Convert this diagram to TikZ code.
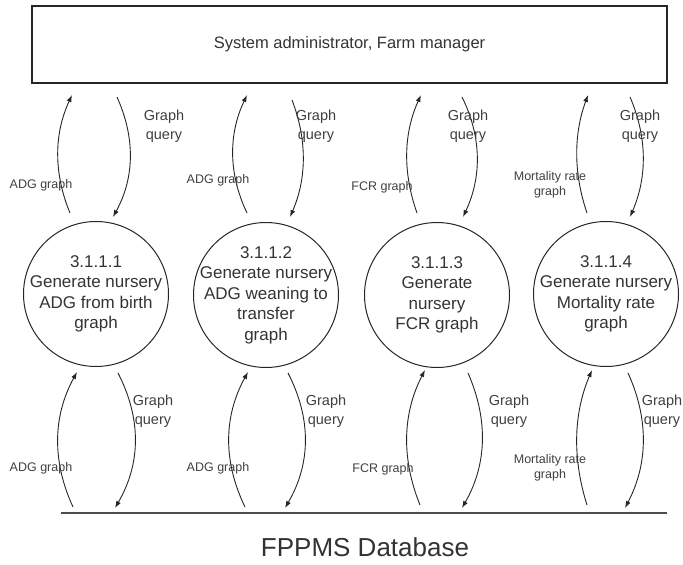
\documentclass[tikz,border=0pt]{standalone}
\usepackage{fontspec}
\setmainfont{Liberation Sans}
\usetikzlibrary{arrows.meta}
\begin{document}
\begin{tikzpicture}[x=1pt,y=-1pt,
  flow/.style={draw=black!85, line width=0.9pt, -{Latex[length=7pt,width=5pt]}},
  proc/.style={circle, draw=black!85, line width=1pt, minimum size=145pt, inner sep=0pt},
  proctext/.style={align=center, font=\fontsize{17}{20.5}\selectfont, text=black!80, inner sep=0pt},
  lbl/.style={align=center, font=\fontsize{12.5}{15}\selectfont, text=black!75, inner sep=0pt},
  qlbl/.style={align=center, font=\fontsize{14.5}{18.5}\selectfont, text=black!75, inner sep=0pt},
  ext/.style={draw=black!85, line width=1.2pt, minimum width=635pt, minimum height=77pt, inner sep=0pt, font=\fontsize{16.5}{20}\selectfont, text=black!80},
  store/.style={draw=black!70, line width=1.5pt}
]
\useasboundingbox (0,0) rectangle (683,565);

% external entity
\node[ext] (sys) at (349.5,44.5) {System administrator, Farm manager};

% processes
\node[proc] (p1) at (96,294) {};
\node[proctext] (p1t) at (p1) {3.1.1.1\\Generate nursery\\ADG from birth\\graph};
\node[proc] (p2) at (266,295) {};
\node[proctext] (p2t) at (p2) {3.1.1.2\\Generate nursery\\ADG weaning to\\transfer\\graph};
\node[proc] (p3) at (437,295) {};
\node[proctext] (p3t) at (p3) {3.1.1.3\\Generate\\nursery\\FCR graph};
\node[proc] (p4) at (606,294) {};
\node[proctext] (p4t) at (p4) {3.1.1.4\\Generate nursery\\Mortality rate\\graph};

% data store
\coordinate (dbl) at (61,513);
\coordinate (dbr) at (667,513);
\draw[store] (dbl) -- (dbr);
\node[font=\fontsize{26}{30}\selectfont, text=black!80, inner sep=0pt] (db) at (365,547) {FPPMS Database};

% ---- top flows ----
\coordinate (tu1s) at (70,213);  \coordinate (tu1e) at (72,95);
\coordinate (td1s) at (117,97);  \coordinate (td1e) at (113,217);
\coordinate (tu2s) at (247,213); \coordinate (tu2e) at (247,95);
\coordinate (td2s) at (292,100); \coordinate (td2e) at (290,217);
\coordinate (tu3s) at (417,213); \coordinate (tu3e) at (421,95);
\coordinate (td3s) at (462,97);  \coordinate (td3e) at (463,217);
\coordinate (tu4s) at (587,213); \coordinate (tu4e) at (588,95);
\coordinate (td4s) at (630,97);  \coordinate (td4e) at (630,217);

\draw[flow] (tu1s) .. controls (53.7,173.7) and (53.7,134.3) .. (tu1e);
\draw[flow] (td1s) .. controls (135,137) and (135,177) .. (td1e);
\draw[flow] (tu2s) .. controls (228.3,173.7) and (228.3,134.3) .. (tu2e);
\draw[flow] (td2s) .. controls (307,139) and (307,178) .. (td2e);
\draw[flow] (tu3s) .. controls (403,173.7) and (403,134.3) .. (tu3e);
\draw[flow] (td3s) .. controls (481.8,137) and (481.8,177) .. (td3e);
\draw[flow] (tu4s) .. controls (573.5,173.7) and (573.5,134.3) .. (tu4e);
\draw[flow] (td4s) .. controls (647.3,137) and (647.3,177) .. (td4e);

% ---- bottom flows ----
\coordinate (bu1s) at (73,507);  \coordinate (bu1e) at (77,372);
\coordinate (bd1s) at (118,373); \coordinate (bd1e) at (115,508);
\coordinate (bu2s) at (245,507); \coordinate (bu2e) at (248,372);
\coordinate (bd2s) at (288,373); \coordinate (bd2e) at (285,508);
\coordinate (bu3s) at (420,505); \coordinate (bu3e) at (425,370);
\coordinate (bd3s) at (468,373); \coordinate (bd3e) at (462,508);
\coordinate (bu4s) at (587,505); \coordinate (bu4e) at (592,370);
\coordinate (bd4s) at (628,373); \coordinate (bd4e) at (625,508);

\draw[flow] (bu1s) .. controls (52.3,462) and (52.3,417) .. (bu1e);
\draw[flow] (bd1s) .. controls (141.2,418) and (141.2,463) .. (bd1e);
\draw[flow] (bu2s) .. controls (223.2,462) and (223.2,417) .. (bu2e);
\draw[flow] (bd2s) .. controls (311.2,418) and (311.2,463) .. (bd2e);
\draw[flow] (bu3s) .. controls (401.8,460) and (401.8,415) .. (bu3e);
\draw[flow] (bd3s) .. controls (487.7,418) and (487.7,463) .. (bd3e);
\draw[flow] (bu4s) .. controls (572.8,460) and (572.8,415) .. (bu4e);
\draw[flow] (bd4s) .. controls (648.5,418) and (648.5,463) .. (bd4e);

% ---- top labels ----
\node[lbl] (lt1) at (41,185) {ADG graph};
\node[qlbl] (qt1) at (164,126) {Graph\\query};
\node[lbl] (lt2) at (218,180) {ADG graph};
\node[qlbl] (qt2) at (316,126) {Graph\\query};
\node[lbl] (lt3) at (382,187) {FCR graph};
\node[qlbl] (qt3) at (468,126) {Graph\\query};
\node[lbl] (lt4) at (550,185) {Mortality rate\\graph};
\node[qlbl] (qt4) at (640,126) {Graph\\query};

% ---- bottom labels ----
\node[qlbl] (qb1) at (153,411) {Graph\\query};
\node[lbl] (lb1) at (41,468) {ADG graph};
\node[qlbl] (qb2) at (326,411) {Graph\\query};
\node[lbl] (lb2) at (218,468) {ADG graph};
\node[qlbl] (qb3) at (509,411) {Graph\\query};
\node[lbl] (lb3) at (383,469) {FCR graph};
\node[qlbl] (qb4) at (662,411) {Graph\\query};
\node[lbl] (lb4) at (550,468) {Mortality rate\\graph};
\end{tikzpicture}
\end{document}
